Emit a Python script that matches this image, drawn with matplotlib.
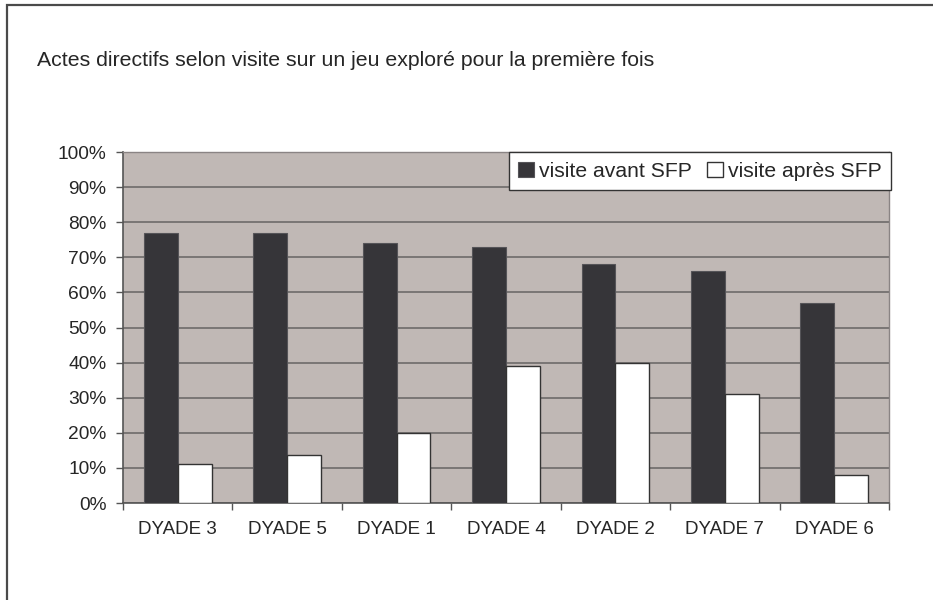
import matplotlib
matplotlib.use("Agg")
import matplotlib.pyplot as plt
import numpy as np
from matplotlib.patches import Rectangle
from matplotlib.ticker import FixedLocator, PercentFormatter

plt.rcParams['font.family'] = ['Liberation Sans', 'DejaVu Sans']

categories = ["DYADE 3", "DYADE 5", "DYADE 1", "DYADE 4", "DYADE 2", "DYADE 7", "DYADE 6"]
avant_sfp = [77, 77, 74, 73, 68, 66, 57]
apres_sfp = [11, 13.6, 20, 39, 40, 31, 8]
series_labels = ["visite avant SFP", "visite après SFP"]
title = "Actes directifs selon visite sur un jeu exploré pour la première fois"

W, H = 933, 600
fig = plt.figure(figsize=(W / 100, H / 100), dpi=100)
fig.patch.set_facecolor("white")

# chart-area frame (open to the right and bottom)
fig.patches.append(Rectangle((7 / W, -0.2), 1.2, 1.2 - 5 / H,
                             transform=fig.transFigure, fill=False,
                             edgecolor="#4a4a4a", linewidth=1.6, clip_on=False))

ax = fig.add_axes([123 / W, 97 / H, (889 - 123) / W, (503 - 152) / H])
ax.set_facecolor("#c0b8b5")

x = np.arange(len(categories))
bw = 0.31
ax.bar(x - bw / 2, avant_sfp, width=bw, color="#363539", edgecolor="#555458",
       linewidth=0.8, label=series_labels[0], zorder=3)
ax.bar(x + bw / 2, apres_sfp, width=bw, color="white", edgecolor="#333333",
       linewidth=1.0, label=series_labels[1], zorder=3)

ax.set_xlim(-0.5, len(categories) - 0.5)
ax.set_ylim(0, 100)
ax.yaxis.set_major_locator(FixedLocator(np.arange(0, 101, 10)))
ax.yaxis.set_major_formatter(PercentFormatter(decimals=0))
ax.grid(axis="y", color="#6e6a6a", linewidth=1.2, zorder=1)
ax.set_axisbelow(True)

ax.set_xticks(x)
ax.set_xticklabels(categories)
ax.set_xticks(np.arange(-0.5, len(categories), 1), minor=True)
ax.tick_params(axis="x", which="major", length=0, pad=13, labelsize=13.5, labelcolor="#262626")
ax.tick_params(axis="x", which="minor", length=5, width=1, color="#555555", direction="out")
ax.tick_params(axis="y", length=5, width=1, color="#555555", pad=7, labelsize=13.8,
               labelcolor="#262626")

for side in ["top", "right"]:
    ax.spines[side].set_color("#8a8484")
    ax.spines[side].set_linewidth(1.0)
for side in ["left", "bottom"]:
    ax.spines[side].set_color("#555555")
    ax.spines[side].set_linewidth(1.2)

leg = ax.legend(loc="upper right", bbox_to_anchor=(1.003, 1.0), ncol=2, frameon=True,
                fancybox=False, borderaxespad=0, fontsize=15.2, handlelength=0.75,
                handleheight=0.75, handletextpad=0.25, columnspacing=0.7,
                borderpad=0.45)
leg.get_frame().set_edgecolor("#333333")
leg.get_frame().set_linewidth(1.0)
leg.get_frame().set_facecolor("white")
leg.get_frame().set_alpha(1)
for t in leg.get_texts():
    t.set_color("#262626")

fig.text(37 / W, 1 - 66 / H, title, fontsize=15.3, color="#262626", va="baseline", ha="left")

fig.savefig("out.png", dpi=100)
